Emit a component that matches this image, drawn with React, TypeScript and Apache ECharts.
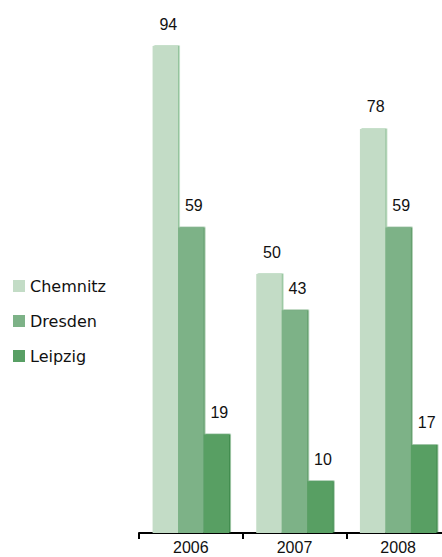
import React, { useEffect, useRef } from "react";
import * as echarts from "echarts";

const categories = ["2006", "2007", "2008"];
const seriesNames = ["Chemnitz", "Dresden", "Leipzig"];
const chemnitz = [94, 50, 78];
const dresden = [59, 43, 59];
const leipzig = [19, 10, 17];
const colors = ["#c3dcc6", "#7db287", "#589f64"];
const edgeColors = ["#8fc197", "#5e9c69", "#418b4e"];

export default function App() {
  const ref = useRef<HTMLDivElement>(null);
  useEffect(() => {
    if (!ref.current) return;
    const chart = echarts.init(ref.current, undefined, { renderer: "svg" });
    const data = [chemnitz, dresden, leipzig];
    chart.setOption({
      animation: false,
      backgroundColor: "#ffffff",
      legend: {
        orient: "vertical",
        left: 8,
        top: 273,
        itemWidth: 12,
        itemHeight: 12,
        itemGap: 19,
        icon: "rect",
        textStyle: {
          fontFamily: "DejaVu Sans",
          fontSize: 16,
          color: "#111",
        },
        data: seriesNames,
      },
      grid: {
        left: 139,
        top: 15,
        width: 311,
        height: 518,
        outerBoundsMode: "none",
        containLabel: false,
      },
      xAxis: {
        type: "category",
        data: categories,
        axisLine: { show: true, lineStyle: { color: "#000", width: 2 } },
        axisTick: {
          show: true,
          alignWithLabel: false,
          length: 6,
          lineStyle: { color: "#000", width: 2 },
        },
        axisLabel: {
          margin: 6,
          fontFamily: "Liberation Sans",
          fontSize: 16,
          lineHeight: 16,
          color: "#111",
        },
      },
      yAxis: {
        type: "value",
        min: 0,
        max: 100,
        show: false,
        splitLine: { show: false },
      },
      series: seriesNames.map((name, i) => ({
        name,
        type: "bar",
        data: data[i],
        barWidth: 25.5,
        barGap: "0%",
        z: 2,
        itemStyle: {
          color: colors[i],
          shadowColor: edgeColors[i],
          shadowOffsetX: 1.5,
          shadowOffsetY: -0.5,
          shadowBlur: 0,
        },
        label: {
          show: true,
          position: "top",
          distance: 14,
          offset: [3, 0],
          fontFamily: "Liberation Sans",
          fontSize: 16,
          color: "#111",
        },
      })),
    });
    return () => chart.dispose();
  }, []);
  return (
    <div
      ref={ref}
      style={{ position: "fixed", left: 0, top: 0, width: 442, height: 557 }}
    />
  );
}
